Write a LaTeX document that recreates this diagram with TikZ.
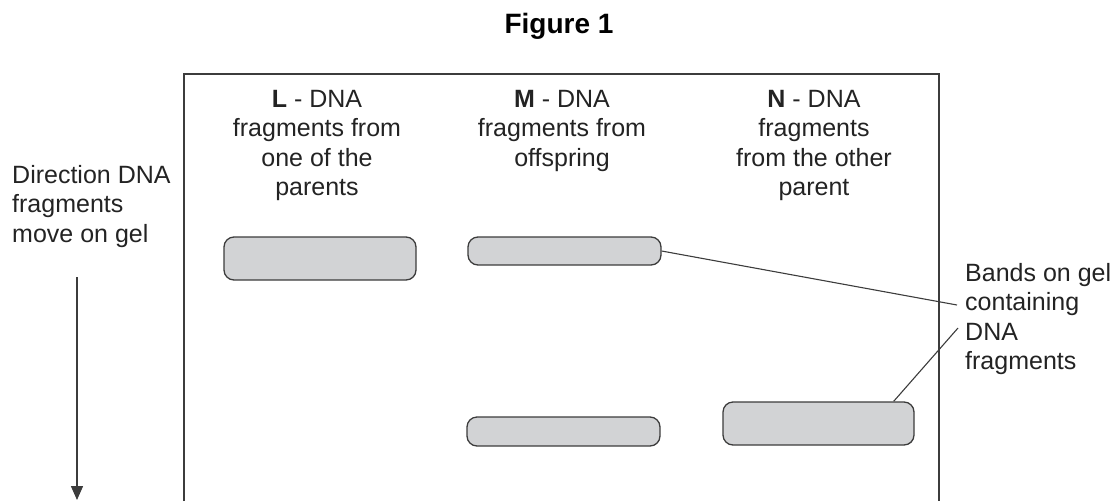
\documentclass[tikz,border=0pt]{standalone}
\usepackage{fontspec}
\setmainfont{Liberation Sans}
\usetikzlibrary{arrows.meta,calc}
\definecolor{bandfill}{RGB}{210,211,213}
\definecolor{banddraw}{RGB}{60,60,60}
\definecolor{txtgray}{RGB}{35,35,35}

\begin{document}
\begin{tikzpicture}
  [x=1pt,y=-1pt,
   band/.style={rectangle,rounded corners=10pt,draw=banddraw,fill=bandfill,
                line width=1.3pt,inner sep=0pt},
   label/.style={inner sep=0pt,align=center,text=txtgray,
                 font=\fontsize{25}{29.5}\selectfont},
   leader/.style={line width=1.1pt,draw=banddraw}]

  \useasboundingbox (0,0) rectangle (1113,501);

  % title
  \node at (559,26) [font=\bfseries\fontsize{28}{32}\selectfont] (title) {Figure 1};

  % gel outline, open at the bottom
  \draw [line width=1.8pt,draw=banddraw] (184,501) -- (184,74) -- (939,74) -- (939,501);

  % lane headings
  \node at (317,90) [label,anchor=north] (laneL)
    {\textbf{L} - DNA\\fragments from\\one of the\\parents};
  \node at (562,90) [label,anchor=north] (laneM)
    {\textbf{M} - DNA\\fragments from\\offspring};
  \node at (814,90) [label,anchor=north] (laneN)
    {\textbf{N} - DNA\\fragments\\from the other\\parent};

  % bands
  \node at (320,258.5)   [band,minimum width=192pt,minimum height=43pt] (bandL)  {};
  \node at (564.5,251)   [band,minimum width=193pt,minimum height=28pt] (bandMa) {};
  \node at (563.5,431.5) [band,minimum width=193pt,minimum height=29pt] (bandMb) {};
  \node at (818.5,423.5) [band,minimum width=191pt,minimum height=43pt] (bandN)  {};

  % direction of movement
  \node at (12,165) [label,align=left,anchor=north west] (dirtext)
    {Direction DNA\\fragments\\move on gel};
  \coordinate (arrtop) at (77,277);
  \coordinate (arrtip) at (77,500);
  \draw [line width=1.5pt,draw=banddraw,-{Triangle[width=12pt,length=14pt]}] (arrtop) -- (arrtip);

  % label for the bands
  \node at (965,263) [label,align=left,anchor=north west] (bandtext)
    {Bands on gel\\containing\\DNA\\fragments};
  \coordinate (lead1) at (957,305);
  \coordinate (lead2) at (958,328);
  \draw [leader] (bandMa.east) -- (lead1);
  \draw [leader] ($(bandN.north east)+(-21,0)$) -- (lead2);
\end{tikzpicture}
\end{document}
